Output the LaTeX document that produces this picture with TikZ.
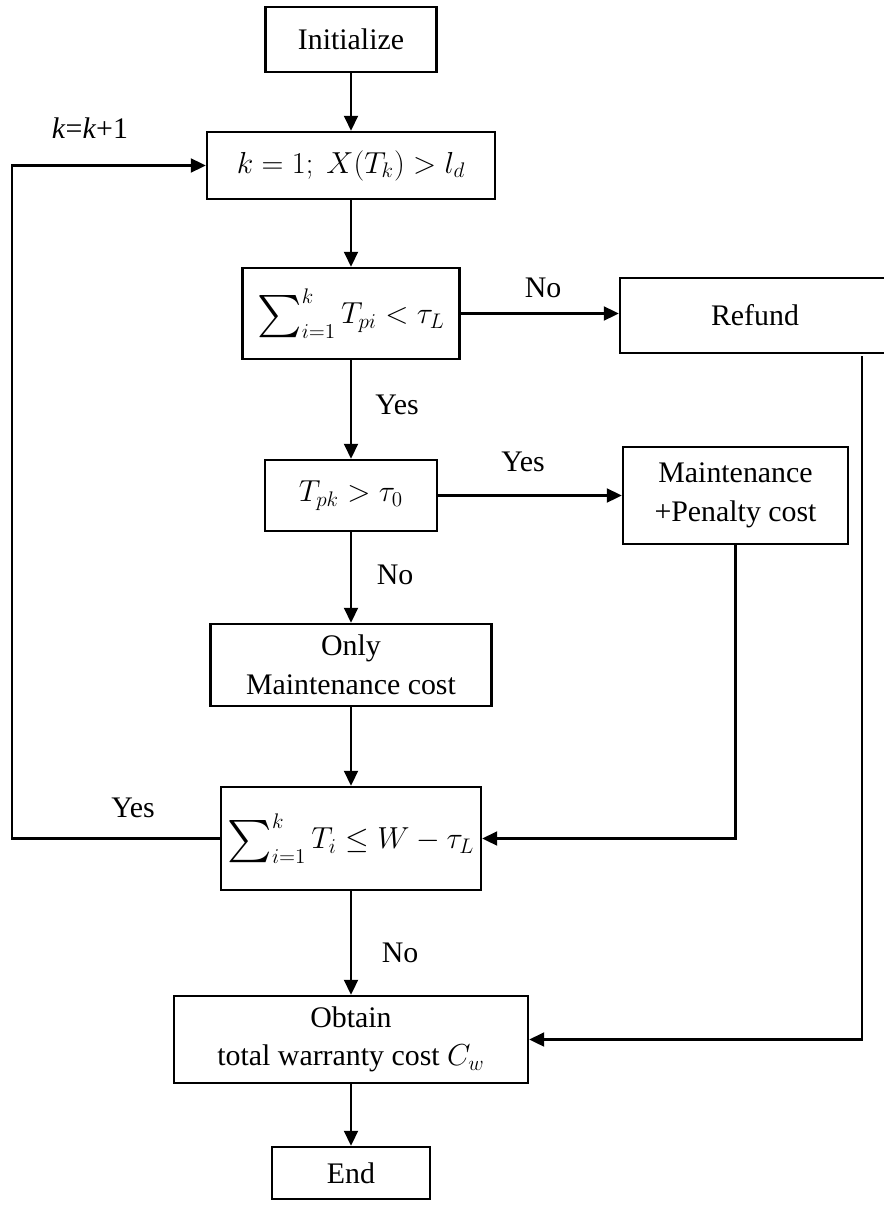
\documentclass[tikz,border=0pt]{standalone}
\usepackage{fontspec}
\usepackage{graphicx}
\setmainfont{Liberation Serif}
\usetikzlibrary{arrows.meta}

\newcommand{\bigsum}{\mathop{\vcenter{\hbox{\scalebox{2.4}{$\sum$}}}}\nolimits}

\begin{document}
\begin{tikzpicture}[x=0.02cm, y=-0.02cm,
    font=\fontsize{17}{22}\selectfont,
    box/.style={draw, line width=1.5pt, align=center, inner sep=0pt},
    mbox/.style={box, font=\fontsize{18}{22}\selectfont},
    flow/.style={line width=1.2pt, -{Triangle[length=8.5pt,width=8pt]}},
    lbl/.style={inner sep=0pt}]
  \useasboundingbox (0,0) rectangle (883,1209);

  \node[box, minimum width=3.42cm, minimum height=1.30cm] (init) at (351,39.5) {Initialize};
  \node[mbox, minimum width=5.76cm, minimum height=1.34cm] (kbox) at (351,165.5) {$k = 1;\ X(T_k) > l_d$};
  \node[mbox, minimum width=4.34cm, minimum height=1.82cm] (sumtp) at (351,313.5) {$\bigsum_{i=1}^{k} T_{pi} < \tau_L$};
  \node[box, minimum width=5.40cm, minimum height=1.50cm] (refund) at (755,315.5) {Refund};
  \node[mbox, minimum width=3.44cm, minimum height=1.42cm] (tpk) at (351,495.5) {$T_{pk} > \tau_0$};
  \node[box, minimum width=4.50cm, minimum height=1.94cm] (maint) at (735.5,495.5) {Maintenance\\+Penalty cost};
  \node[box, minimum width=5.62cm, minimum height=1.64cm] (only) at (351,665) {Only\\Maintenance cost};
  \node[mbox, minimum width=5.20cm, minimum height=2.06cm] (sumt) at (351,838.5) {$\bigsum_{i=1}^{k} T_i \le W - \tau_L$};
  \node[box, minimum width=7.08cm, minimum height=1.74cm] (obtain) at (351,1039.5) {Obtain\\total warranty cost $C_w$};
  \node[box, minimum width=3.16cm, minimum height=1.04cm] (endbox) at (351,1173) {End};

  % labels on the branches
  \node[lbl] (nok) at (543,288) {No};
  \node[lbl] (yesk) at (397,405) {Yes};
  \node[lbl] (yespen) at (523,462) {Yes};
  \node[lbl] (nopen) at (395,575) {No};
  \node[lbl] (yesloop) at (133,808) {Yes};
  \node[lbl] (incr) at (90,128) {\textit{k}=\textit{k}+1};
  \node[lbl] (nowar) at (400,953) {No};

  \coordinate (rfout) at (862,356);
  \coordinate (loop) at (12,838.5);

  \draw[flow] (init) -- (kbox);
  \draw[flow] (kbox) -- (sumtp);
  \draw[flow] (sumtp) -- (sumtp -| refund.west);
  \draw[flow] (sumtp) -- (tpk);
  \draw[flow] (tpk) -- (tpk -| maint.west);
  \draw[flow] (tpk) -- (only);
  \draw[flow] (only) -- (sumt);
  \draw[flow] (maint.south) |- (sumt.east);
  \draw[flow] (sumt.west) -- (loop) |- (kbox.west);
  \draw[flow] (sumt) -- (obtain);
  \draw[flow] (rfout) |- (obtain.east);
  \draw[flow] (obtain) -- (endbox);
\end{tikzpicture}
\end{document}
